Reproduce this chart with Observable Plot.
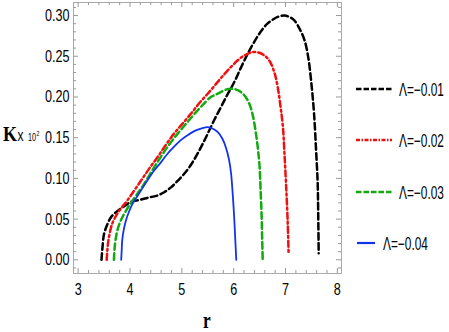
<!DOCTYPE html>
<html>
<head>
<meta charset="utf-8">
<script src="https://cdn.jsdelivr.net/npm/d3@7"></script>
<script src="https://cdn.jsdelivr.net/npm/@observablehq/plot@0.6"></script>
<style>
  html, body { margin: 0; padding: 0; background: #fff; }
  #wrap { position: relative; width: 449px; height: 332px; overflow: hidden; }
</style>
</head>
<body>
<div id="wrap"></div>
<script>
// Series (r, K x 10^2)
const labels = ["Λ=−0.01", "Λ=−0.02", "Λ=−0.03", "Λ=−0.04"];
const colors = ["#000000", "#ee1111", "#11aa11", "#1133ee"];
const dashes = ["6.5,3.5", "6,3,2,3", "6.5,3.5", null];
const widths = [2.5, 2.5, 2.5, 1.8];

const r1 = [3.45, 3.47, 3.50, 3.56, 3.63, 3.72, 3.82, 3.92, 4.01, 4.14, 4.27, 4.40, 4.53, 4.66, 4.79, 4.92, 5.05, 5.18, 5.30, 5.40, 5.50, 5.62, 5.75, 5.88, 6.01, 6.14, 6.27, 6.40, 6.52, 6.65, 6.78, 6.88, 6.98, 7.08, 7.17, 7.27, 7.37, 7.44, 7.50, 7.55, 7.59, 7.62, 7.63, 7.64];
const k1 = [0.000, 0.016, 0.032, 0.043, 0.052, 0.058, 0.063, 0.067, 0.071, 0.073, 0.075, 0.077, 0.079, 0.083, 0.089, 0.097, 0.106, 0.117, 0.130, 0.142, 0.155, 0.171, 0.187, 0.203, 0.218, 0.236, 0.253, 0.268, 0.280, 0.290, 0.296, 0.299, 0.300, 0.298, 0.294, 0.284, 0.269, 0.248, 0.216, 0.180, 0.134, 0.095, 0.060, 0.008];

const r2 = [3.55, 3.57, 3.60, 3.66, 3.75, 3.85, 3.95, 4.08, 4.21, 4.37, 4.53, 4.69, 4.85, 5.01, 5.17, 5.33, 5.50, 5.66, 5.82, 5.95, 6.08, 6.18, 6.27, 6.35, 6.43, 6.51, 6.59, 6.66, 6.72, 6.79, 6.85, 6.90, 6.95, 6.98, 7.01, 7.04, 7.06];
const k2 = [0.000, 0.017, 0.030, 0.045, 0.056, 0.065, 0.073, 0.085, 0.097, 0.112, 0.126, 0.141, 0.155, 0.167, 0.179, 0.192, 0.204, 0.216, 0.228, 0.237, 0.245, 0.250, 0.253, 0.255, 0.255, 0.254, 0.251, 0.247, 0.241, 0.229, 0.212, 0.190, 0.163, 0.130, 0.093, 0.050, 0.007];

const r3 = [3.69, 3.70, 3.72, 3.76, 3.82, 3.91, 4.01, 4.14, 4.27, 4.43, 4.59, 4.75, 4.92, 5.08, 5.24, 5.40, 5.56, 5.66, 5.75, 5.85, 5.95, 6.05, 6.14, 6.23, 6.30, 6.37, 6.43, 6.47, 6.50, 6.52, 6.54, 6.55, 6.56];
const k3 = [0.000, 0.012, 0.024, 0.037, 0.048, 0.059, 0.069, 0.081, 0.093, 0.110, 0.126, 0.141, 0.155, 0.167, 0.179, 0.190, 0.200, 0.203, 0.206, 0.209, 0.210, 0.209, 0.206, 0.200, 0.192, 0.177, 0.155, 0.135, 0.114, 0.085, 0.052, 0.025, 0.000];

const r4 = [3.83, 3.84, 3.85, 3.88, 3.92, 3.98, 4.05, 4.13, 4.21, 4.34, 4.47, 4.60, 4.72, 4.85, 4.98, 5.11, 5.24, 5.37, 5.50, 5.60, 5.69, 5.78, 5.85, 5.91, 5.95, 5.98, 6.01, 6.03, 6.05];
const k4 = [0.000, 0.012, 0.024, 0.037, 0.048, 0.059, 0.069, 0.077, 0.085, 0.098, 0.110, 0.120, 0.130, 0.139, 0.147, 0.153, 0.158, 0.161, 0.163, 0.161, 0.157, 0.149, 0.138, 0.123, 0.106, 0.082, 0.052, 0.026, 0.000];

const xTicks = [3, 4, 5, 6, 7, 8];
const yTicks = [0, 0.05, 0.10, 0.15, 0.20, 0.25, 0.30];

const series = [[r1, k1], [r2, k2], [r3, k3], [r4, k4]];

const W = 449, H = 332, mL = 73, mR = 108, mT = 2, mB = 59;
const innerH = H - mT - mB, innerW = W - mL - mR;
const xDomain = [2.91, 8.08], yDomain = [-0.0168, 0.316];

const yMinor = d3.range(-0.01, 0.316, 0.01).map(v => +v.toFixed(3)).filter(v => !yTicks.some(t => Math.abs(t - v) < 1e-6));
const xMinorAll = d3.range(2.2, 8.1, 0.2).map(v => +v.toFixed(2)).filter(v => v >= xDomain[0] && v <= xDomain[1] && !xTicks.some(t => Math.abs(t - v) < 1e-6));

const tickColor = "#999";
const marks = [
  Plot.frame({stroke: "#aaa", strokeWidth: 1}),
  Plot.tickX(xTicks, {x: d => d, stroke: tickColor, insetTop: innerH - 5}),
  Plot.tickX(xMinorAll, {x: d => d, stroke: tickColor, insetTop: innerH - 3}),
  Plot.tickX(xTicks, {x: d => d, stroke: tickColor, insetBottom: innerH - 5}),
  Plot.tickX(xMinorAll, {x: d => d, stroke: tickColor, insetBottom: innerH - 3}),
  Plot.tickY(yTicks, {y: d => d, stroke: tickColor, insetRight: innerW - 5}),
  Plot.tickY(yMinor, {y: d => d, stroke: tickColor, insetRight: innerW - 3}),
  Plot.tickY(yTicks, {y: d => d, stroke: tickColor, insetLeft: innerW - 5}),
  Plot.tickY(yMinor, {y: d => d, stroke: tickColor, insetLeft: innerW - 3}),
  Plot.axisX(xTicks, {anchor: "bottom", tickSize: 0, tickPadding: 9, tickFormat: d3.format("d"), label: null,
    fontSize: 17, fill: "#000"}),
  Plot.axisY(yTicks, {anchor: "left", tickSize: 0, tickPadding: 4, tickFormat: d3.format(".2f"), label: null,
    fontSize: 17, fill: "#000"})
];
series.forEach(([rs, ks], i) => {
  const data = rs.map((r, j) => ({r, k: ks[j]}));
  marks.push(Plot.line(data, {x: "r", y: "k", stroke: colors[i], strokeWidth: widths[i],
    strokeDasharray: dashes[i] || undefined, curve: "catmull-rom"}));
});

const chart = Plot.plot({
  width: W, height: H,
  marginLeft: mL, marginRight: mR, marginTop: mT, marginBottom: mB,
  x: {domain: xDomain},
  y: {domain: yDomain},
  style: {fontFamily: "'Liberation Sans', Arial, sans-serif", fontSize: "17px", background: "#fff"},
  marks
});
const wrap = document.getElementById("wrap");
wrap.appendChild(chart);

// condense tick labels horizontally (the reference text is narrow and tall)
chart.querySelectorAll('g[aria-label$="tick label"]').forEach(g => {
  g.setAttribute("font-size", 17);
  g.style.fontSize = "17px";
  g.querySelectorAll("text").forEach(t => {
    t.style.fontSize = "17px";
    const len = t.getComputedTextLength();
    t.setAttribute("textLength", (len * 0.74).toFixed(2));
    t.setAttribute("lengthAdjust", "spacingAndGlyphs");
  });
});

// overlay: axis titles and legend
const ns = "http://www.w3.org/2000/svg";
const svg = document.createElementNS(ns, "svg");
svg.setAttribute("width", W); svg.setAttribute("height", H);
svg.style.position = "absolute"; svg.style.left = "0"; svg.style.top = "0";
wrap.appendChild(svg);

function addText(str, x, y, size, family, weight, scale, anchor) {
  const t = document.createElementNS(ns, "text");
  t.setAttribute("x", x); t.setAttribute("y", y);
  t.setAttribute("font-size", size);
  t.setAttribute("font-family", family);
  t.setAttribute("font-weight", weight || "normal");
  if (anchor) t.setAttribute("text-anchor", anchor);
  t.setAttribute("fill", "#000");
  t.textContent = str;
  svg.appendChild(t);
  const len = t.getComputedTextLength();
  t.setAttribute("textLength", (len * scale).toFixed(2));
  t.setAttribute("lengthAdjust", "spacingAndGlyphs");
  return t;
}
const serif = "'Liberation Serif', 'DejaVu Serif', serif";
const sans = "'Liberation Sans', Arial, sans-serif";
// y title "Kx10²"
addText("K", 3, 141, 21, serif, "bold", 0.86);
addText("x", 17.5, 141, 16, sans, "normal", 0.75);
addText("10", 28, 141, 10, sans, "normal", 0.72);
addText("2", 36.5, 135.5, 6.5, sans, "normal", 0.8);
// x title "r"
addText("r", 203, 328, 24, serif, "bold", 0.72);

// legend
const legY = [89, 140, 192, 243];
const legX0 = [356, 356, 356, 357], legX1 = [392, 392, 392, 375], txtX = [399, 399, 399, 383];
const legDash = ["5.5,2", "4,1.5,1.5,1.5", "5.5,2", null];
labels.forEach((lab, i) => {
  const ln = document.createElementNS(ns, "line");
  ln.setAttribute("x1", legX0[i]); ln.setAttribute("x2", legX1[i]);
  ln.setAttribute("y1", legY[i]); ln.setAttribute("y2", legY[i]);
  ln.setAttribute("stroke", colors[i]); ln.setAttribute("stroke-width", i < 3 ? 2.6 : 2.2);
  if (legDash[i]) ln.setAttribute("stroke-dasharray", legDash[i]);
  svg.appendChild(ln);
  addText(lab, txtX[i], legY[i] + 6.5, 18, sans, "normal", 0.66);
});
</script>
</body>
</html>
